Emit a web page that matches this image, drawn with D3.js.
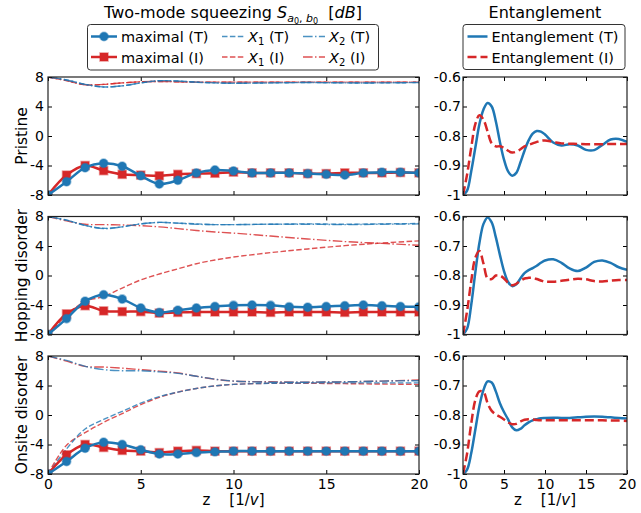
<!DOCTYPE html>
<html>
<head>
<meta charset="utf-8">
<script src="https://cdn.jsdelivr.net/npm/d3@7"></script>
<style>
 body { margin: 0; background: #fff; }
 text { font-family: "DejaVu Sans", sans-serif; fill: #000; }
</style>
</head>
<body>
<svg id="fig" width="641" height="513"></svg>
<script>
/* Squeezing and entanglement versus z for three disorder cases.
 Left column : two-mode squeezing (maximal, X1, X2), right column : entanglement.
 T = theory (blue), I = ... (red). */

// ---- data ----
var rowNames = ['Pristine', 'Hopping disorder', 'Onsite disorder'];

// marker positions for "maximal" curves
var zMarks = [0, 1, 2, 3, 4, 5, 6, 7, 8, 9, 10, 11, 12, 13, 14, 15, 16, 17, 18, 19, 20];
// positions of the quadrature curves X1, X2
var zThin = [0, 1, 2, 3, 4, 5, 6, 7, 8, 9, 10, 12, 14, 16, 18, 20];
// positions of the entanglement curves
var zEnt = [0, 0.5, 1, 1.5, 2, 2.5, 3, 3.5, 4, 4.5, 5, 5.5, 6, 6.5, 7, 7.5, 8, 8.5, 9, 9.5, 10,
 11, 12, 13, 14, 15, 16, 17, 18, 19, 20];

var xTicks = [0, 5, 10, 15, 20];
var xTickLabels = ['0', '5', '10', '15', '20'];
var sqTicks = [-8, -4, 0, 4, 8];
var sqTickLabels = ['-8', '-4', '0', '4', '8'];
var enTicks = [-1, -0.9, -0.8, -0.7, -0.6];
var enTickLabels = ['-1', '-0.9', '-0.8', '-0.7', '-0.6'];

// pristine
var prMaxT = [-8, -6.2, -4.3, -3.7, -4.1, -5.4, -6.5, -6.0, -5.0, -4.6, -4.75, -5.0, -5.0, -5.0, -5.1, -5.2, -5.3, -5.0, -4.9, -4.9, -5.0];
var prMaxI = [-8, -5.3, -4.0, -4.7, -5.2, -5.3, -5.4, -5.2, -5.1, -5.05, -4.9, -5.0, -5.0, -5.0, -5.1, -5.1, -5.0, -5.0, -5.0, -4.95, -5.0];
var prX1T = [8, 7.6, 7.0, 6.65, 6.8, 7.2, 7.5, 7.45, 7.3, 7.2, 7.15, 7.2, 7.25, 7.2, 7.2, 7.25];
var prX1I = [8, 7.5, 6.95, 7.0, 7.2, 7.35, 7.4, 7.35, 7.3, 7.3, 7.3, 7.3, 7.3, 7.3, 7.3, 7.3];
var prX2T = [8, 7.6, 7.0, 6.65, 6.8, 7.2, 7.5, 7.45, 7.3, 7.2, 7.15, 7.2, 7.25, 7.2, 7.2, 7.25];
var prX2I = [8, 7.5, 6.95, 7.0, 7.2, 7.35, 7.4, 7.35, 7.3, 7.3, 7.3, 7.3, 7.3, 7.3, 7.3, 7.3];
var prEntT = [-1, -0.985, -0.92, -0.84, -0.76, -0.71, -0.688, -0.70, -0.75, -0.82, -0.88, -0.92, -0.935, -0.925, -0.89, -0.85, -0.815, -0.792, -0.783, -0.785, -0.795,
 -0.822, -0.832, -0.828, -0.832, -0.847, -0.848, -0.83, -0.812, -0.81, -0.82];
var prEntI = [-1, -0.93, -0.84, -0.76, -0.73, -0.745, -0.785, -0.825, -0.835, -0.835, -0.84, -0.85, -0.856, -0.853, -0.845, -0.835, -0.83, -0.825, -0.82, -0.816, -0.815,
 -0.82, -0.825, -0.826, -0.827, -0.828, -0.828, -0.828, -0.827, -0.827, -0.827];

// hopping disorder
var hoMaxT = [-8, -5.85, -3.5, -2.6, -3.2, -4.4, -5.0, -4.7, -4.4, -4.2, -4.05, -4.0, -4.05, -4.25, -4.3, -4.2, -4.1, -4.0, -4.1, -4.2, -4.25];
var hoMaxI = [-8, -5.2, -4.1, -4.8, -4.9, -4.9, -5.1, -5.0, -4.95, -4.95, -4.95, -4.95, -5.0, -4.95, -4.95, -4.95, -5.0, -4.95, -4.95, -4.95, -4.95];
var hoX1T = [8, 7.5, 6.8, 6.4, 6.6, 7.0, 7.2, 7.1, 7.0, 6.9, 6.9, 6.95, 7.0, 6.95, 7.0, 7.05];
var hoX1I = [-8, -5.4, -3.5, -2.85, -1.7, -0.6, 0.2, 0.9, 1.6, 2.1, 2.5, 3.1, 3.6, 4.05, 4.4, 4.7];
var hoX2T = [8, 7.5, 6.8, 6.35, 6.6, 7.0, 7.2, 7.1, 6.95, 6.9, 6.9, 6.95, 6.95, 6.9, 6.95, 7.0];
var hoX2I = [8, 7.4, 6.95, 6.9, 6.85, 6.75, 6.6, 6.35, 6.1, 5.9, 5.75, 5.35, 4.95, 4.6, 4.35, 4.1];
var hoEntT = [-1, -0.98, -0.9, -0.79, -0.69, -0.625, -0.603, -0.62, -0.67, -0.73, -0.785, -0.822, -0.836, -0.83, -0.81, -0.792, -0.782, -0.775, -0.767, -0.757, -0.749,
 -0.745, -0.757, -0.776, -0.785, -0.773, -0.754, -0.749, -0.757, -0.772, -0.781];
var hoEntI = [-1, -0.92, -0.82, -0.74, -0.717, -0.76, -0.81, -0.812, -0.80, -0.80, -0.81, -0.825, -0.833, -0.828, -0.818, -0.81, -0.808, -0.808, -0.812, -0.817, -0.821,
 -0.821, -0.818, -0.814, -0.811, -0.813, -0.819, -0.82, -0.817, -0.815, -0.815];

// onsite disorder
var onMaxT = [-8, -6.3, -4.5, -3.7, -4.0, -4.7, -5.3, -5.3, -5.1, -5.0, -4.9, -4.9, -4.9, -4.9, -4.9, -4.9, -4.9, -4.9, -4.9, -4.9, -4.9];
var onMaxI = [-8, -5.4, -4.0, -4.4, -4.8, -4.9, -5.1, -4.9, -4.8, -4.9, -4.9, -4.9, -4.9, -4.9, -4.9, -4.9, -4.9, -4.9, -4.9, -4.9, -4.9];
var onX1T = [-8, -4.6, -1.9, -0.6, 0.5, 1.6, 2.5, 3.1, 3.6, 3.95, 4.15, 4.3, 4.35, 4.35, 4.35, 4.35];
var onX1I = [-8, -4.1, -2.4, -1.0, 0.2, 1.4, 2.4, 3.1, 3.6, 3.95, 4.15, 4.3, 4.3, 4.25, 4.2, 4.15];
var onX2T = [8, 7.4, 6.6, 6.15, 6.0, 6.0, 5.85, 5.65, 5.25, 4.85, 4.6, 4.45, 4.45, 4.5, 4.6, 4.65];
var onX2I = [8, 7.3, 6.6, 6.5, 6.35, 6.15, 5.95, 5.7, 5.25, 4.85, 4.6, 4.5, 4.45, 4.5, 4.6, 4.75];
var onEntT = [-1, -0.985, -0.93, -0.85, -0.77, -0.715, -0.686, -0.69, -0.72, -0.76, -0.79, -0.815, -0.842, -0.852, -0.847, -0.835, -0.825, -0.818, -0.814, -0.811, -0.81,
 -0.809, -0.81, -0.81, -0.808, -0.806, -0.805, -0.806, -0.808, -0.81, -0.812];
var onEntI = [-1, -0.93, -0.83, -0.75, -0.72, -0.722, -0.76, -0.786, -0.798, -0.806, -0.815, -0.825, -0.831, -0.83, -0.822, -0.816, -0.814, -0.815, -0.817, -0.818, -0.818,
 -0.818, -0.818, -0.818, -0.818, -0.818, -0.818, -0.818, -0.819, -0.819, -0.82];

var rowData = [
 {maxT: prMaxT, maxI: prMaxI, x1T: prX1T, x1I: prX1I, x2T: prX2T, x2I: prX2I, entT: prEntT, entI: prEntI},
 {maxT: hoMaxT, maxI: hoMaxI, x1T: hoX1T, x1I: hoX1I, x2T: hoX2T, x2I: hoX2I, entT: hoEntT, entI: hoEntI},
 {maxT: onMaxT, maxI: onMaxI, x1T: onX1T, x1I: onX1I, x2T: onX2T, x2I: onX2I, entT: onEntT, entI: onEntI}
];

// ---- graphical parameters ----
var blue = '#1f77b4';
var red = '#d62728';
var rowTops = [77, 216.5, 356];
var panelH = 118;
var tickFont = 14;
var dashX1 = '5.5,2.4';
var dashX2 = '9.6,2.4,1.5,2.4';
var dashEnt = '9,4';

var svg = d3.select('#fig');
var xLeft = d3.scaleLinear().domain([0, 20]).range([48, 419]);
var xRight = d3.scaleLinear().domain([0, 20]).range([463, 627]);

/* creates one panel: a clipped group for the data, returned to be filled */
function createPanel(x, y, clipId)
{
 var x0 = x.range()[0], x1 = x.range()[1];
 var y0 = y.range()[1], y1 = y.range()[0];
 svg.append('clipPath').attr('id', clipId)
  .append('rect')
  .attr('x', x0).attr('y', y0)
  .attr('width', x1 - x0).attr('height', y1 - y0);
 return svg.append('g').attr('clip-path', 'url(#' + clipId + ')');
}

/* draws the frame and inward ticks on all four sides */
function drawFrame(x, y, yTicks, yLabels, showX, yPad)
{
 var x0 = x.range()[0], x1 = x.range()[1];
 var y0 = y.range()[1], y1 = y.range()[0];
 var g = svg.append('g');

 var bottom = g.append('g').attr('transform', 'translate(0,' + y1 + ')')
  .call(d3.axisBottom(x).tickValues(xTicks).tickSize(-4).tickPadding(5)
   .tickFormat(function(d, i){ return showX ? xTickLabels[i] : ''; }));
 g.append('g').attr('transform', 'translate(0,' + y0 + ')')
  .call(d3.axisTop(x).tickValues(xTicks).tickSize(-4).tickFormat(''));
 var left = g.append('g').attr('transform', 'translate(' + x0 + ',0)')
  .call(d3.axisLeft(y).tickValues(yTicks).tickSize(-4).tickPadding(yPad)
   .tickFormat(function(d, i){ return yLabels[i]; }));
 g.append('g').attr('transform', 'translate(' + x1 + ',0)')
  .call(d3.axisRight(y).tickValues(yTicks).tickSize(-4).tickFormat(''));

 g.selectAll('.domain').remove();
 g.selectAll('.tick line').style('stroke', '#000').style('stroke-width', '1px');
 g.selectAll('g').attr('font-size', tickFont).attr('font-family', '"DejaVu Sans", sans-serif');

 g.append('rect')
  .attr('x', x0).attr('y', y0)
  .attr('width', x1 - x0).attr('height', y1 - y0)
  .style('fill', 'none')
  .style('stroke', '#222')
  .style('stroke-width', '1.2px');
 return g;
}

/* draws a smooth line through (zs, vals) */
function drawCurve(g, x, y, zs, vals, color, width, dash, opacity)
{
 var line = d3.line()
  .x(function(d, i){ return x(zs[i]); })
  .y(function(d){ return y(d); })
  .curve(d3.curveCatmullRom);
 g.append('path')
  .datum(vals)
  .attr('d', line)
  .style('fill', 'none')
  .style('stroke', color)
  .style('stroke-width', width + 'px')
  .style('stroke-dasharray', dash)
  .style('opacity', opacity);
}

/* draws circle or square markers */
function drawMarkers(g, x, y, zs, vals, color, shape)
{
 var sel = g.append('g').selectAll(shape).data(vals).enter();
 if(shape == 'circle')
 {
  sel.append('circle')
   .attr('cx', function(d, i){ return x(zs[i]); })
   .attr('cy', function(d){ return y(d); })
   .attr('r', 4.2)
   .style('fill', color)
   .style('stroke', color).style('stroke-opacity', 0.45).style('stroke-width', '1.6px');
 }
 else
 {
  sel.append('rect')
   .attr('x', function(d, i){ return x(zs[i]) - 4; })
   .attr('y', function(d){ return y(d) - 4; })
   .attr('width', 8).attr('height', 8)
   .style('fill', color)
   .style('stroke', color).style('stroke-opacity', 0.45).style('stroke-width', '1.6px');
 }
}

rowData.forEach(function(row, i)
{
 var top = rowTops[i];
 var ySq = d3.scaleLinear().domain([-8, 8]).range([top + panelH, top]);
 var yEn = d3.scaleLinear().domain([-1, -0.6]).range([top + panelH, top]);

 // squeezing panel
 var gL = createPanel(xLeft, ySq, 'clipL' + i);
 drawCurve(gL, xLeft, ySq, zThin, row.x1I, red, 1.4, dashX1, 0.8);
 drawCurve(gL, xLeft, ySq, zThin, row.x2I, red, 1.4, dashX2, 0.8);
 drawCurve(gL, xLeft, ySq, zThin, row.x1T, blue, 1.4, dashX1, 0.8);
 drawCurve(gL, xLeft, ySq, zThin, row.x2T, blue, 1.4, dashX2, 0.8);
 drawCurve(gL, xLeft, ySq, zMarks, row.maxI, red, 2.5, null, 1);
 drawMarkers(gL, xLeft, ySq, zMarks, row.maxI, red, 'rect');
 drawCurve(gL, xLeft, ySq, zMarks, row.maxT, blue, 2.5, null, 1);
 drawMarkers(gL, xLeft, ySq, zMarks, row.maxT, blue, 'circle');
 drawFrame(xLeft, ySq, sqTicks, sqTickLabels, i == 2, 4);

 // entanglement panel
 var gR = createPanel(xRight, yEn, 'clipR' + i);
 drawCurve(gR, xRight, yEn, zEnt, row.entT, blue, 2.5, null, 1);
 drawCurve(gR, xRight, yEn, zEnt, row.entI, red, 2.5, dashEnt, 1);
 drawFrame(xRight, yEn, enTicks, enTickLabels, i == 2, 2);

 // row label
 svg.append('text')
  .attr('transform', 'translate(26.5,' + (top + panelH / 2) + ') rotate(-90)')
  .attr('text-anchor', 'middle')
  .attr('font-size', 15.5)
  .text(rowNames[i]);
});

// ---- titles ----
var t1 = svg.append('text')
 .attr('x', 233).attr('y', 18)
 .attr('text-anchor', 'middle')
 .attr('font-size', 16)
 .style('white-space', 'pre');
t1.append('tspan').text('Two-mode squeezing ');
t1.append('tspan').attr('font-style', 'italic').text('S');
t1.append('tspan').attr('font-size', 11).attr('dy', 3.5).attr('font-style', 'italic').text('a');
t1.append('tspan').attr('font-size', 8).attr('dy', 2).text('0');
t1.append('tspan').attr('font-size', 11).attr('dy', -2).text(', ');
t1.append('tspan').attr('font-size', 11).attr('font-style', 'italic').text('b');
t1.append('tspan').attr('font-size', 8).attr('dy', 2).text('0');
t1.append('tspan').attr('dy', -5.5).text('  [');
t1.append('tspan').attr('font-style', 'italic').text('dB');
t1.append('tspan').text(']');

svg.append('text')
 .attr('x', 545).attr('y', 18)
 .attr('text-anchor', 'middle')
 .attr('font-size', 16)
 .text('Entanglement');

// x axis labels
[xLeft, xRight].forEach(function(x)
{
 var c = (x.range()[0] + x.range()[1]) / 2;
 var lab = svg.append('text')
  .attr('x', c).attr('y', 505)
  .attr('text-anchor', 'middle')
  .attr('font-size', 15)
  .style('white-space', 'pre');
 lab.append('tspan').text('z    [1/');
 lab.append('tspan').attr('font-style', 'italic').text('v');
 lab.append('tspan').text(']');
});

// ---- legends ----
function legendBox(x, y, w, h)
{
 svg.append('rect')
  .attr('x', x).attr('y', y).attr('width', w).attr('height', h)
  .attr('rx', 3).attr('ry', 3)
  .style('fill', 'rgba(255,255,255,0.9)')
  .style('stroke', '#333')
  .style('stroke-width', '1px');
}

/* adds one legend entry: handle line (with optional marker) and label */
function legendEntry(x, y, len, color, width, dash, opacity, marker, parts)
{
 svg.append('line')
  .attr('x1', x).attr('x2', x + len).attr('y1', y).attr('y2', y)
  .style('stroke', color).style('stroke-width', width + 'px')
  .style('stroke-dasharray', dash).style('opacity', opacity);
 if(marker == 'circle')
 {
  svg.append('circle').attr('cx', x + len / 2).attr('cy', y).attr('r', 4.2)
   .style('fill', color).style('stroke', color).style('stroke-opacity', 0.45).style('stroke-width', '1.6px');
 }
 else if(marker == 'rect')
 {
  svg.append('rect').attr('x', x + len / 2 - 4).attr('y', y - 4).attr('width', 8).attr('height', 8)
   .style('fill', color).style('stroke', color).style('stroke-opacity', 0.45).style('stroke-width', '1.6px');
 }
 var t = svg.append('text')
  .attr('x', x + len + 4).attr('y', y + 5.5)
  .attr('font-size', 14.5)
  .style('white-space', 'pre');
 parts.forEach(function(p)
 {
  var s = t.append('tspan').text(p.t);
  if(p.it) s.attr('font-style', 'italic');
  if(p.sub) s.attr('font-size', 10).attr('dy', 3);
  if(p.up) s.attr('dy', -3);
 });
}

legendBox(87.5, 24.5, 291, 45.5);
var rowY = [36.5, 57];
legendEntry(91, rowY[0], 26, blue, 2.5, null, 1, 'circle', [{t: 'maximal (T)'}]);
legendEntry(91, rowY[1], 26, red, 2.5, null, 1, 'rect', [{t: 'maximal (I)'}]);
legendEntry(222, rowY[0], 22, blue, 1.4, dashX1, 0.8, null, [{t: 'X', it: true}, {t: '1', sub: true}, {t: ' (T)', up: true}]);
legendEntry(222, rowY[1], 22, red, 1.4, dashX1, 0.8, null, [{t: 'X', it: true}, {t: '1', sub: true}, {t: ' (I)', up: true}]);
legendEntry(303, rowY[0], 22, blue, 1.4, dashX2, 0.8, null, [{t: 'X', it: true}, {t: '2', sub: true}, {t: ' (T)', up: true}]);
legendEntry(303, rowY[1], 22, red, 1.4, dashX2, 0.8, null, [{t: 'X', it: true}, {t: '2', sub: true}, {t: ' (I)', up: true}]);

legendBox(463, 24.5, 162, 45);
legendEntry(467.5, rowY[0], 20, blue, 2.5, null, 1, null, [{t: 'Entanglement (T)'}]);
legendEntry(467.5, rowY[1], 20, red, 2.5, dashEnt, 1, null, [{t: 'Entanglement (I)'}]);
</script>
</body>
</html>
